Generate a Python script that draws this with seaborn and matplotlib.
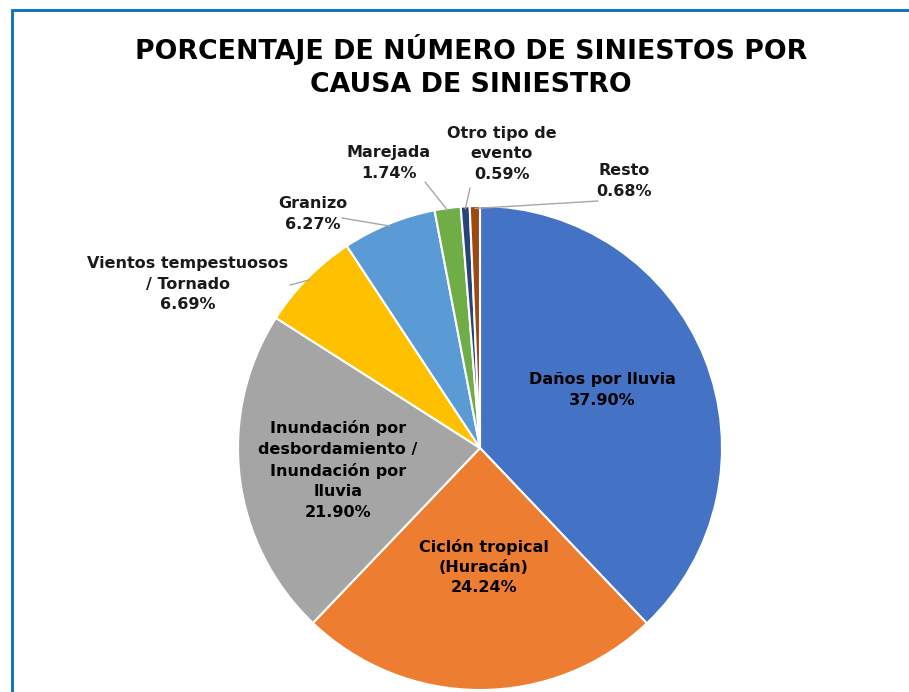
import numpy as np
import matplotlib
matplotlib.use("Agg")
import matplotlib.pyplot as plt
import seaborn as sns
from matplotlib.patches import Rectangle

categories = ["Daños por lluvia", "Ciclón tropical\n(Huracán)",
              "Inundación por\ndesbordamiento /\nInundación por\nlluvia",
              "Vientos tempestuosos\n/ Tornado", "Granizo", "Marejada",
              "Otro tipo de\nevento", "Resto"]
values = [37.90, 24.24, 21.90, 6.69, 6.27, 1.74, 0.59, 0.68]
pct_labels = ["37.90%", "24.24%", "21.90%", "6.69%", "6.27%", "1.74%", "0.59%", "0.68%"]
colors = ["#4472C4", "#ED7D31", "#A5A5A5", "#FFC000", "#5B9BD5", "#70AD47", "#264478", "#9E480E"]
title = "PORCENTAJE DE NÚMERO DE SINIESTOS POR\nCAUSA DE SINIESTRO"

sns.set_theme(style="white")
plt.rcParams['font.family'] = ['DejaVu Sans']

W, H = 909, 692
fig = plt.figure(figsize=(W / 100, H / 100), dpi=100)
ax = fig.add_axes([0, 0, 1, 1])

# border
fig.patches.append(Rectangle((12 / W, -0.1), 1.2, 1.1 - 10 / H, transform=fig.transFigure,
                             fill=False, edgecolor="#0070C0", linewidth=2.0))

cx, cy, r = 480, H - 448, 242
wedges, _ = ax.pie(values, colors=colors, startangle=90, counterclock=False,
                   center=(cx, cy), radius=r, frame=True,
                   wedgeprops=dict(edgecolor="white", linewidth=1.5))
ax.set_xlim(0, W)
ax.set_ylim(0, H)
ax.set_aspect("equal")
ax.axis("off")

ax.text(471, H - 66, title, ha="center", va="center", fontsize=19.3, fontweight="bold",
        linespacing=1.35, color="black")

# label positions (pixel coords, y from top)
inside_pos = {0: (602, 390), 1: (484, 567), 2: (338, 470)}
outside_pos = {3: (188, 284), 4: (313, 214), 5: (389, 163), 6: (502, 154), 7: (624, 181)}
# line start points near the label (pixel coords)
line_start = {3: (290, 285), 4: (342, 218), 5: (425, 182), 6: (470, 188), 7: (598, 201)}

for i, w in enumerate(wedges):
    lab = f"{categories[i]}\n{pct_labels[i]}"
    if i in inside_pos:
        x, y = inside_pos[i]
        ax.text(x, H - y, lab, ha="center", va="center", fontsize=11.5, fontweight="bold",
                color="black", linespacing=1.45)
    else:
        x, y = outside_pos[i]
        ax.text(x, H - y, lab, ha="center", va="center", fontsize=11.5, fontweight="bold",
                color="#1a1a1a", linespacing=1.45)
        ang = np.deg2rad((w.theta1 + w.theta2) / 2)
        ex = cx + r * 0.99 * np.cos(ang)
        ey = cy + r * 0.99 * np.sin(ang)
        sx, sy = line_start[i]
        ax.plot([sx, ex], [H - sy, ey], color="#A6A6A6", linewidth=1)

fig.savefig("out.png", dpi=100)
